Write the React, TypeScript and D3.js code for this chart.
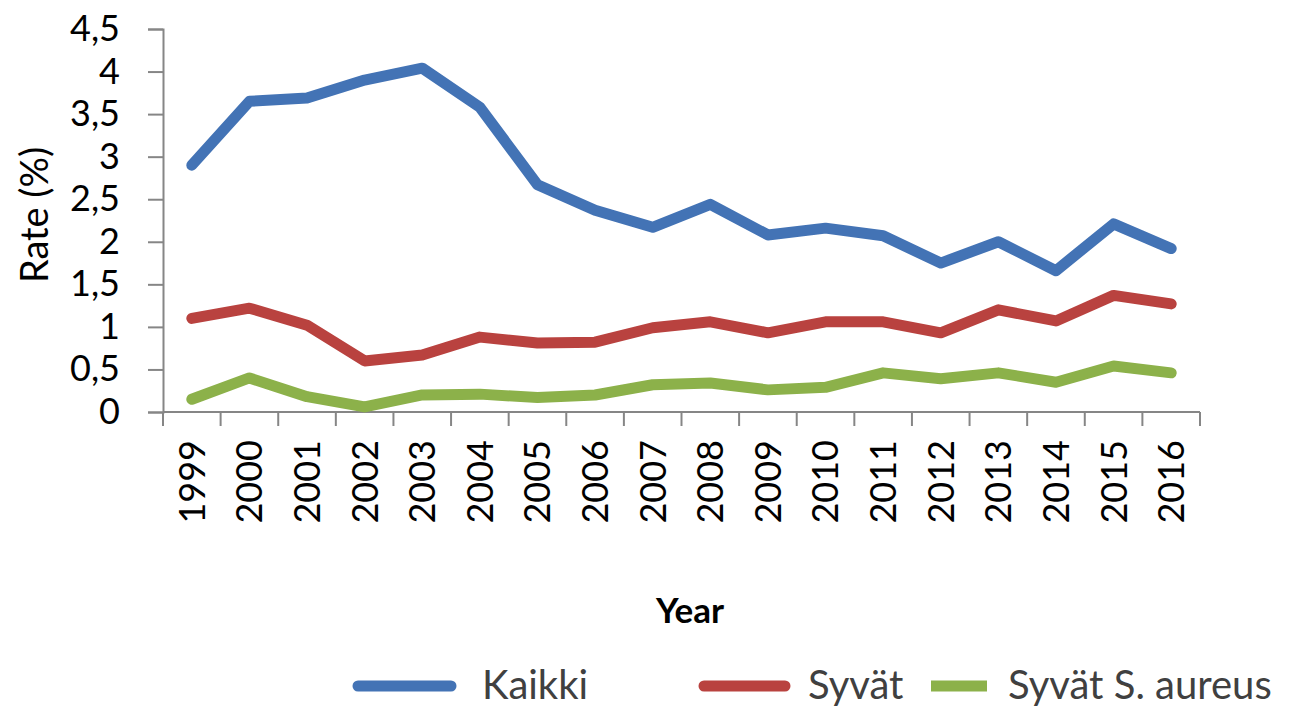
import * as d3 from "d3";
import { useEffect, useRef } from "react";

// data
const years = ["1999", "2000", "2001", "2002", "2003", "2004", "2005", "2006", "2007",
  "2008", "2009", "2010", "2011", "2012", "2013", "2014", "2015", "2016"];
const kaikki = [2.9, 3.65, 3.69, 3.9, 4.04, 3.58, 2.67, 2.37, 2.17, 2.44, 2.08, 2.16, 2.07, 1.75, 2.0, 1.66, 2.21, 1.92];
const syvat = [1.1, 1.22, 1.02, 0.6, 0.67, 0.88, 0.81, 0.82, 0.99, 1.06, 0.93, 1.06, 1.06, 0.93, 1.2, 1.07, 1.37, 1.27];
const syvatAureus = [0.15, 0.4, 0.18, 0.06, 0.2, 0.21, 0.17, 0.2, 0.32, 0.34, 0.26, 0.29, 0.46, 0.39, 0.46, 0.35, 0.54, 0.46];
const yTicks = [0, 0.5, 1, 1.5, 2, 2.5, 3, 3.5, 4, 4.5];

const series = [
  { name: "Kaikki", values: kaikki, color: "#4373B5" },
  { name: "Syvät", values: syvat, color: "#B9423F" },
  { name: "Syvät S. aureus", values: syvatAureus, color: "#8CB14A" },
];

const FONT = "Lato, 'Open Sans', sans-serif";

export default function App() {
  const svgRef = useRef<SVGSVGElement>(null);
  const W = 1301;
  const H = 709;
  const margin = { left: 163, right: 101, top: 29, bottom: 297 };
  const width = W - margin.left - margin.right;
  const height = H - margin.top - margin.bottom;

  useEffect(() => {
    const svgEl = d3.select(svgRef.current);
    svgEl.selectAll("*").remove();
    const svg = svgEl.append("g").attr("transform", `translate(${margin.left}, ${margin.top})`);

    const x = d3.scaleBand().domain(years).range([0, width]);
    const y = d3.scaleLinear().domain([0, 4.5]).range([height, 0]);
    const axisColor = "#868686";

    // y axis
    const yAxis = d3.axisLeft(y).tickValues(yTicks).tickSize(15).tickPadding(28)
      .tickFormat((d) => d3.format("")(d as number).replace(".", ","));
    const gy = svg.append("g").call(yAxis);
    gy.select(".domain").attr("stroke", axisColor).attr("stroke-width", 2);
    gy.selectAll(".tick line").attr("stroke", axisColor).attr("stroke-width", 2);
    gy.selectAll(".tick text").attr("font-family", FONT).attr("font-size", 36).attr("fill", "#000");

    // x axis: ticks on band boundaries
    const gx = svg.append("g").attr("transform", `translate(0, ${height})`);
    gx.append("line").attr("x1", 0).attr("x2", width).attr("stroke", axisColor).attr("stroke-width", 2);
    const bounds = d3.range(years.length + 1).map((i) => i * x.step());
    gx.selectAll("line.tk").data(bounds).enter().append("line")
      .attr("class", "tk")
      .attr("x1", (d) => d).attr("x2", (d) => d)
      .attr("y1", 0).attr("y2", 14)
      .attr("stroke", axisColor).attr("stroke-width", 2);
    gx.selectAll("text").data(years).enter().append("text")
      .attr("transform", (d) => `translate(${(x(d) as number) + x.bandwidth() / 2}, 28) rotate(-90)`)
      .attr("text-anchor", "end")
      .attr("dy", "0.36em")
      .attr("font-family", FONT).attr("font-size", 36).attr("fill", "#000")
      .text((d) => d);

    // lines
    const line = d3.line<number>()
      .x((_, i) => (x(years[i]) as number) + x.bandwidth() / 2)
      .y((d) => y(d));
    svg.selectAll("path.series").data(series).enter().append("path")
      .attr("class", "series")
      .attr("d", (s) => line(s.values))
      .attr("fill", "none")
      .attr("stroke", (s) => s.color)
      .attr("stroke-width", 11)
      .attr("stroke-linecap", "round")
      .attr("stroke-linejoin", "round");

    // axis titles
    svgEl.append("text")
      .attr("transform", "translate(48, 215) rotate(-90)")
      .attr("text-anchor", "middle")
      .attr("font-family", FONT).attr("font-size", 38).attr("fill", "#000")
      .text("Rate (%)");
    svgEl.append("text")
      .attr("x", 690).attr("y", 623)
      .attr("text-anchor", "middle")
      .attr("font-family", FONT).attr("font-size", 35).attr("font-weight", "bold").attr("fill", "#000")
      .text("Year");

    // legend
    const legend = [
      { s: series[0], x1: 358, x2: 451, tx: 482, cap: "round" },
      { s: series[1], x1: 704, x2: 785, tx: 808, cap: "round" },
      { s: series[2], x1: 931, x2: 987, tx: 1008, cap: "butt" },
    ];
    const lg = svgEl.append("g");
    legend.forEach((l) => {
      lg.append("line")
        .attr("x1", l.x1).attr("x2", l.x2).attr("y1", 686).attr("y2", 686)
        .attr("stroke", l.s.color).attr("stroke-width", 11).attr("stroke-linecap", l.cap);
      lg.append("text")
        .attr("x", l.tx).attr("y", 699)
        .attr("font-family", FONT).attr("font-size", 40).attr("fill", "#404040")
        .text(l.s.name);
    });
  }, []);

  return (
    <svg ref={svgRef} width={W} height={H}
      style={{ position: "absolute", left: 0, top: 0, background: "#fff" }} />
  );
}
